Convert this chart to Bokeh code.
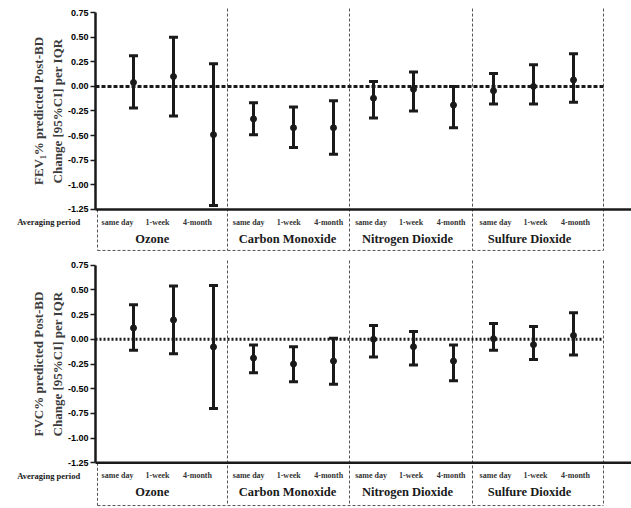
from bokeh.plotting import figure
from bokeh.models import (Range1d, FixedTicker, PrintfTickFormatter, Whisker,
                          TeeHead, ColumnDataSource, LinearAxis)
from bokeh.layouts import column
from bokeh.embed import file_html
from bokeh.resources import INLINE
from bokeh.core.properties import value

# ---- data -------------------------------------------------------------
pollutants = ["Ozone", "Carbon Monoxide", "Nitrogen Dioxide", "Sulfure Dioxide"]
periods = ["same day", "1-week", "4-month"]
y_ticks = [0.75, 0.5, 0.25, 0.0, -0.25, -0.5, -0.75, -1.0, -1.25]

# FEV1 % predicted post-BD change per IQR (estimate, 95% CI)
fev1_est = [0.04, 0.10, -0.49, -0.33, -0.42, -0.42, -0.12, -0.03, -0.19, -0.045, 0.0, 0.065]
fev1_lo = [-0.22, -0.30, -1.21, -0.49, -0.62, -0.69, -0.32, -0.25, -0.42, -0.18, -0.18, -0.16]
fev1_hi = [0.31, 0.50, 0.23, -0.165, -0.21, -0.145, 0.05, 0.145, 0.0, 0.13, 0.22, 0.33]

# FVC % predicted post-BD change per IQR (estimate, 95% CI)
fvc_est = [0.115, 0.196, -0.077, -0.19, -0.25, -0.22, 0.0, -0.075, -0.22, 0.007, -0.054, 0.04]
fvc_lo = [-0.11, -0.145, -0.70, -0.337, -0.43, -0.455, -0.18, -0.26, -0.42, -0.11, -0.205, -0.158]
fvc_hi = [0.35, 0.54, 0.545, -0.057, -0.074, 0.01, 0.14, 0.078, -0.057, 0.16, 0.13, 0.27]

# ---- layout constants (x in slot units, one slot per estimate) ---------
X_START, X_END = -3.325, 12.45
Y_AXIS_AT = -0.95
SEPARATORS = [2.35, 5.4, 8.475, 11.75]
BOX_LEFT = -0.9
PERIOD_SHIFT = [-0.4, -0.12, -0.06, 0.05]
NAME_X = [0.47, 3.85, 6.85, 9.9]
INK = "#1a1a1a"
SERIF = value("Liberation Serif")


def panel(title_lines, est, lo, hi, zero_dash, y_end, y_start, top_border,
          sep_top, box_bottom):
    p = figure(width=631, height=254, output_backend="svg", toolbar_location=None,
               x_range=Range1d(X_START, X_END), y_range=Range1d(y_start, y_end),
               x_axis_location=None, y_axis_location=None,
               min_border_left=0, min_border_right=0,
               min_border_top=top_border, min_border_bottom=0)
    p.outline_line_color = None
    p.background_fill_color = "white"

    ax = LinearAxis(fixed_location=Y_AXIS_AT)
    ax.bounds = (-1.25, 0.75)
    ax.ticker = FixedTicker(ticks=y_ticks)
    ax.formatter = PrintfTickFormatter(format="%.2f")
    ax.axis_line_width = 2.5
    ax.axis_line_color = INK
    ax.major_tick_line_width = 1.5
    ax.major_tick_line_color = INK
    ax.major_tick_out = 5
    ax.major_tick_in = 0
    ax.minor_tick_line_color = None
    ax.major_label_standoff = 2
    ax.major_label_text_font = "Liberation Sans"
    ax.major_label_text_font_style = "bold"
    ax.major_label_text_font_size = "9px"
    ax.major_label_text_color = "black"
    p.add_layout(ax, "left")
    p.grid.grid_line_color = None

    n = len(est)
    xs = list(range(n))

    # group separators and the label box under the axis
    p.segment(x0=SEPARATORS, y0=[sep_top] * 4, x1=SEPARATORS, y1=[box_bottom] * 4,
              line_color="#555555", line_width=1, line_dash="3 2")
    p.segment(x0=[BOX_LEFT], y0=[-1.25], x1=[BOX_LEFT], y1=[box_bottom],
              line_color="#555555", line_width=1, line_dash="3 2")
    p.segment(x0=[BOX_LEFT], y0=[box_bottom], x1=[SEPARATORS[-1]], y1=[box_bottom],
              line_color="#555555", line_width=1, line_dash="3 2")

    # horizontal axis line and reference line at zero
    p.segment(x0=[Y_AXIS_AT], y0=[-1.25], x1=[X_END], y1=[-1.25],
              line_color=INK, line_width=2.5)
    p.segment(x0=[Y_AXIS_AT], y0=[0], x1=[SEPARATORS[-1]], y1=[0],
              line_color=INK, line_width=3, line_dash=zero_dash)

    # confidence intervals and point estimates
    src = ColumnDataSource(dict(x=xs, est=est, lo=lo, hi=hi))
    p.add_layout(Whisker(source=src, base="x", upper="hi", lower="lo",
                         dimension="height", line_width=3, line_color=INK,
                         upper_head=TeeHead(size=9, line_width=3, line_color=INK),
                         lower_head=TeeHead(size=9, line_width=3, line_color=INK)))
    p.scatter(x="x", y="est", source=src, marker="circle", size=6,
              fill_color=INK, line_color=INK)

    # period labels and pollutant names
    lab_x, lab_t = [], []
    for g in range(len(pollutants)):
        for k, per in enumerate(periods):
            lab_x.append(g * 3 + k + PERIOD_SHIFT[g])
            lab_t.append(per)
    p.text(x=lab_x, y=[-1.38] * len(lab_x), text=lab_t, text_font=SERIF,
           text_font_size="8px", text_font_style="bold", text_color="#333333",
           text_align="center", text_baseline="middle")
    p.text(x=NAME_X, y=[-1.55] * 4, text=pollutants, text_font=SERIF,
           text_font_size="12.5px", text_font_style="bold", text_color=INK,
           text_align="center", text_baseline="middle")
    p.text(x=[-2.12], y=[-1.38], text=["Averaging period"], text_font=SERIF,
           text_font_size="8.5px", text_font_style="bold", text_color=INK,
           text_align="center", text_baseline="middle")

    # two-line y-axis title
    p.text(x=[-2.375, -1.9], y=[-0.25, -0.25], text=title_lines, angle=1.5708,
           text_font=SERIF, text_font_size="13px", text_font_style="bold",
           text_color="#3c3c3c", text_align="center", text_baseline="middle")
    return p


top = panel(["FEV\u2081% predicted Post-BD", "Change [95%CI] per IQR"],
            fev1_est, fev1_lo, fev1_hi, "4 2",
            y_end=0.811, y_start=-1.707, top_border=6,
            sep_top=0.79, box_bottom=-1.666)
bottom = panel(["FVC% predicted Post-BD", "Change [95%CI] per IQR"],
               fvc_est, fvc_lo, fvc_hi, "2 2",
               y_end=0.818, y_start=-1.712, top_border=4,
               sep_top=0.798, box_bottom=-1.682)

layout = column(top, bottom, spacing=0)
open("out.html", "w").write(file_html(layout, INLINE))
